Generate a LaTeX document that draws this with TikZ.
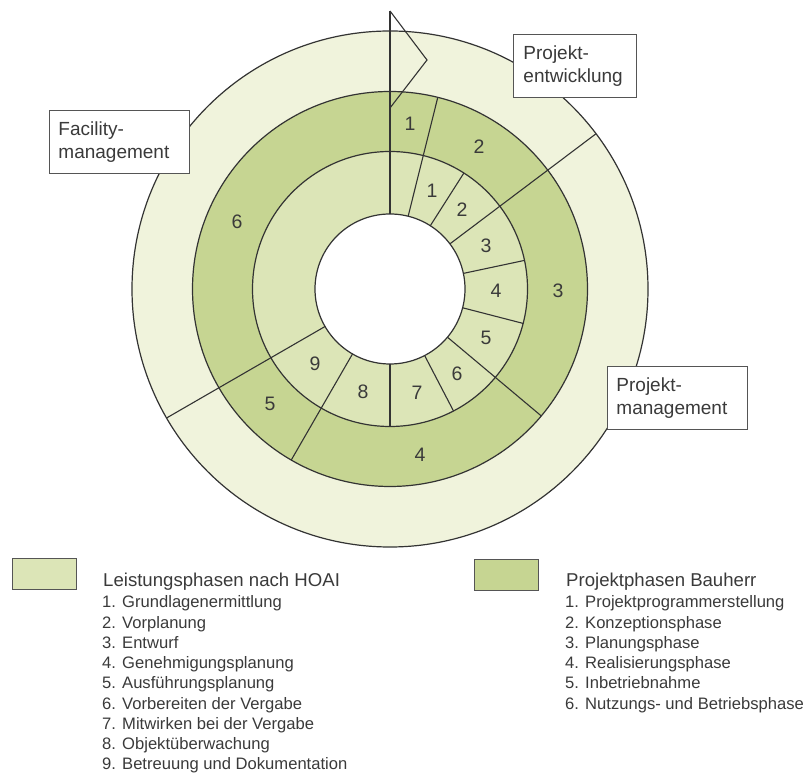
\documentclass[tikz,border=0pt]{standalone}
\usepackage{fontspec}
\setmainfont{Liberation Sans}
\definecolor{ringpale}{HTML}{F0F3DC}
\definecolor{ringhoai}{HTML}{DCE5B7}
\definecolor{ringbau}{HTML}{C6D592}
\definecolor{linegray}{HTML}{333333}
\definecolor{txtgray}{HTML}{3A3A3A}
\definecolor{boxgray}{HTML}{555555}
\begin{document}
\begin{tikzpicture}[x=1pt,y=1pt,
  ring/.style={draw=linegray,line width=1.2pt},
  divider/.style={draw=linegray,line width=1.1pt},
  num/.style={text=txtgray,font=\fontsize{19.5}{22}\selectfont,inner sep=0pt},
  labelbox/.style={draw=boxgray,line width=0.9pt,fill=white,text=txtgray,
    font=\fontsize{19}{23}\selectfont,align=left,inner xsep=9pt,
    minimum height=63pt,anchor=north west},
  legtitle/.style={anchor=base west,inner sep=0pt,text=txtgray,font=\fontsize{18.6}{22}\selectfont},
  legitem/.style={anchor=base west,inner sep=0pt,text=txtgray,font=\fontsize{16.6}{20}\selectfont},
  legswatch/.style={draw=boxgray,line width=1.3pt,minimum width=64pt,minimum height=31pt,
    anchor=north west,inner sep=0pt}
]
\useasboundingbox (0,0) rectangle (808,776);

% concentric rings: outer management ring, Bauherr phases, HOAI phases, hole
\begin{scope}[shift={(390,487)}]
  \filldraw[ring,fill=ringpale] (0,0) circle (258);
  \filldraw[ring,fill=ringbau] (0,0) circle (197.5);
  \filldraw[ring,fill=ringhoai] (0,0) circle (137.5);
  \filldraw[ring,fill=white] (0,0) circle (75);
  % radial dividers: angle / outer radius
  \foreach \a/\r in {90/278, 76/197.5, 57.5/137.5, 37/258, 12/137.5, -14.5/137.5,
                     -40/197.5, -62.5/137.5, -90/137.5, -120/197.5, -150/258}
    \draw[divider] (\a:75) -- (\a:\r);
  % arrow head where the cycle closes
  \draw[divider,line join=miter] (0,278) -- (37,229) -- (0,181);
\end{scope}

% Bauherr phase numbers
\node[num] (b1) at (410,652) {1};
\node[num] (b2) at (479,629) {2};
\node[num] (b3) at (558,485) {3};
\node[num] (b4) at (420,321) {4};
\node[num] (b5) at (270,372) {5};
\node[num] (b6) at (237,554) {6};

% HOAI phase numbers
\node[num] (h1) at (432,585) {1};
\node[num] (h2) at (462,566) {2};
\node[num] (h3) at (486,530) {3};
\node[num] (h4) at (496,485) {4};
\node[num] (h5) at (486,438) {5};
\node[num] (h6) at (457,402) {6};
\node[num] (h7) at (417,383) {7};
\node[num] (h8) at (363,384) {8};
\node[num] (h9) at (315,412) {9};

% labels of the outer ring
\node[labelbox,inner xsep=10pt,text width=103pt] (pe) at (513,742) {Projekt-\\entwicklung};
\node[labelbox,text width=122pt] (fm) at (49,666) {Facility-\\management};
\node[labelbox,text width=122pt] (pm) at (607,410) {Projekt-\\management};

% legend
\node[legswatch,fill=ringhoai] (swA) at (12,218) {};
\node[legswatch,fill=ringbau] (swB) at (474,217) {};

\node[legtitle] (tA) at (103,189) {Leistungsphasen nach HOAI};
\foreach \t [count=\i] in {Grundlagenermittlung, Vorplanung, Entwurf,
    Genehmigungsplanung, Ausführungsplanung, Vorbereiten der Vergabe,
    Mitwirken bei der Vergabe, Objektüberwachung, Betreuung und Dokumentation}
  \node[legitem] (lA\i) at (102,{168-(\i-1)*20.25}) {\i. \t};

\node[legtitle] (tB) at (566,189) {Projektphasen Bauherr};
\foreach \t [count=\i] in {Projektprogrammerstellung, Konzeptionsphase, Planungsphase,
    Realisierungsphase, Inbetriebnahme, Nutzungs- und Betriebsphase}
  \node[legitem] (lB\i) at (565,{168-(\i-1)*20.25}) {\i. \t};
\end{tikzpicture}
\end{document}
